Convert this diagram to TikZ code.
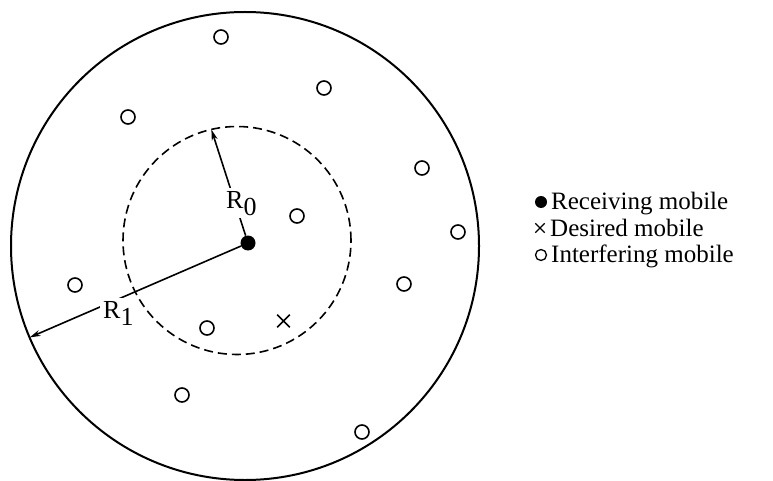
\documentclass[tikz,border=0pt]{standalone}
\usepackage{fontspec}
\setmainfont{Liberation Serif}
\usetikzlibrary{arrows.meta,shapes.misc}
\begin{document}
\begin{tikzpicture}[x=1pt,y=-1pt,
  interf/.style={circle,draw,line width=1.6pt,minimum size=14pt,inner sep=0pt},
  recv/.style={circle,fill,minimum size=15pt,inner sep=0pt},
  desired/.style={cross out,draw,line width=1.6pt,minimum size=11pt,inner sep=0pt},
  lbl/.style={font=\fontsize{26}{26}\selectfont,fill=white,inner sep=3pt,anchor=base west},
  legtext/.style={font=\fontsize{25}{25}\selectfont,anchor=base west,inner sep=0pt},
  radarrow/.style={line width=1.6pt,-{Stealth[length=11pt,width=6pt]}}
]
\useasboundingbox (0,0) rectangle (773,481);
% circles
\node[circle,draw,line width=2pt,minimum size=468pt,inner sep=0pt,outer sep=0pt] (outer) at (245,246) {};
\node[circle,draw,dash pattern=on 9pt off 5pt,line width=1.6pt,minimum size=228pt,inner sep=0pt,outer sep=0pt] (inner) at (237,240.5) {};
% receiving mobile
\node[recv] (rx) at (248,243) {};
% radii
\draw[radarrow] (rx) -- (inner.103);
\draw[radarrow] (rx) -- (outer.203);
\node[lbl] (r0) at (223,208) {R\raisebox{-7pt}{0}};
\node[lbl] (r1) at (100,318) {R\raisebox{-7pt}{1}};
% interfering mobiles
\node[interf] (i1) at (221,37) {};
\node[interf] (i2) at (324,88) {};
\node[interf] (i3) at (128,117) {};
\node[interf] (i4) at (422,168) {};
\node[interf] (i5) at (297,216) {};
\node[interf] (i6) at (458,232) {};
\node[interf] (i7) at (75,285) {};
\node[interf] (i8) at (404,284) {};
\node[interf] (i9) at (207,328) {};
\node[interf] (i10) at (182,395) {};
\node[interf] (i11) at (362,432) {};
% desired mobile
\node[desired] (des) at (283.5,321) {};
% legend
\node[recv,minimum size=12pt] (lrecv) at (541,202) {};
\node[desired,minimum size=8pt,line width=1.3pt] (ldes) at (540,228) {};
\node[interf,minimum size=11pt,line width=1.3pt] (lint) at (541,255) {};
\node[legtext] (t1) at (551,209) {Receiving mobile};
\node[legtext] (t2) at (550,236) {Desired mobile};
\node[legtext] (t3) at (551,262) {Interfering mobile};
\end{tikzpicture}
\end{document}
